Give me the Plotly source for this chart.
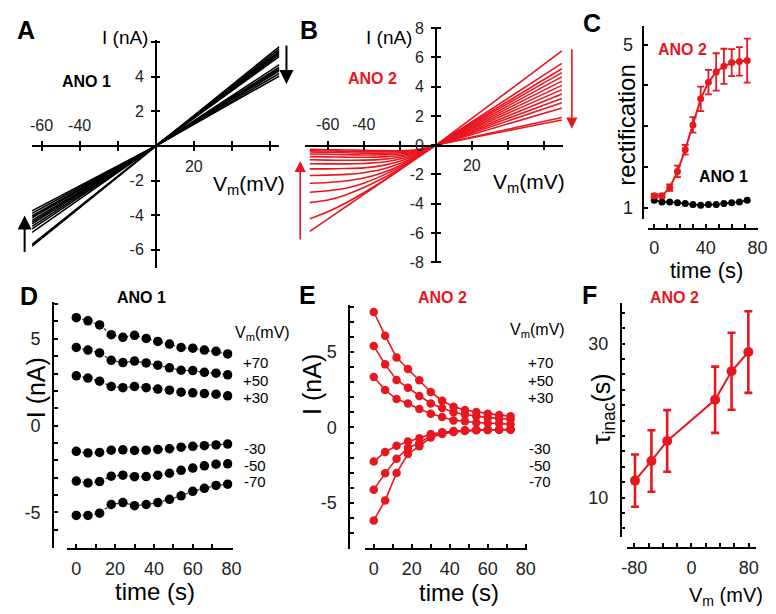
import plotly.graph_objects as go

W, H = 776, 614
def px(x): return x / W
def py(y): return 1 - y / H

RED = '#e8161f'
FONT = 'Liberation Sans, Arial, sans-serif'

# ---------------- Panel A: ANO1 I-V (straight lines through origin)
a_v = [-65, 0, 65]
a_left = [-5.8, -5.7, -5.0, -4.8, -4.65, -4.5, -4.4, -4.3, -4.15, -4.05, -3.9, -3.75]
a_right = [5.75, 5.62, 5.5, 5.4, 5.3, 5.18, 4.7, 4.55, 4.45, 4.35, 4.2, 4.05]

# ---------------- Panel B: ANO2 I-V
b_v = [-70, -60, -50, -40, -30, -20, -10, 0, 70]
b_neg = [
    [-5.9, -5.06, -4.21, -3.37, -2.53, -1.69, -0.84, 0],
    [-5.04, -4.55, -3.95, -3.25, -2.5, -1.68, -0.84, 0],
    [-3.93, -3.75, -3.4, -2.9, -2.3, -1.6, -0.82, 0],
    [-3.22, -3.12, -2.95, -2.6, -2.1, -1.5, -0.8, 0],
    [-2.6, -2.55, -2.45, -2.25, -1.9, -1.4, -0.76, 0],
    [-2.07, -2.05, -2.0, -1.88, -1.65, -1.25, -0.72, 0],
    [-1.62, -1.62, -1.6, -1.55, -1.4, -1.1, -0.66, 0],
    [-1.27, -1.28, -1.28, -1.25, -1.17, -0.95, -0.6, 0],
    [-1.0, -1.02, -1.03, -1.02, -0.97, -0.82, -0.54, 0],
    [-0.78, -0.8, -0.82, -0.83, -0.8, -0.7, -0.48, 0],
    [-0.6, -0.62, -0.65, -0.67, -0.66, -0.6, -0.43, 0],
    [-0.47, -0.49, -0.52, -0.54, -0.55, -0.52, -0.38, 0],
    [-0.38, -0.4, -0.42, -0.44, -0.46, -0.45, -0.34, 0],
    [-0.29, -0.31, -0.33, -0.35, -0.37, -0.38, -0.3, 0],
]
b_pos = [6.45, 5.6, 5.23, 4.96, 4.67, 4.38, 4.09, 3.8, 3.5, 3.2, 2.9, 2.55, 1.89, 1.72]

# ---------------- Panel C: rectification vs time
c_t = [0, 6, 12, 18, 24, 30, 36, 42, 48, 54, 60, 66, 72]
c_ano2 = [1.29, 1.29, 1.49, 1.89, 2.42, 3.03, 3.67, 4.08, 4.33, 4.47, 4.56, 4.59, 4.61]
c_ano2_err = [0.05, 0.05, 0.08, 0.14, 0.12, 0.19, 0.3, 0.3, 0.46, 0.43, 0.33, 0.35, 0.54]
c_ano1 = [1.18, 1.14, 1.14, 1.12, 1.10, 1.08, 1.06, 1.08, 1.08, 1.10, 1.12, 1.14, 1.18]

# ---------------- Panel D: ANO1 current vs time
d_t = [0, 6, 12, 18, 24, 30, 36, 42, 48, 54, 60, 66, 72, 78]
d_series = {
    '+70': [6.22, 6.04, 5.80, 5.24, 5.09, 5.20, 5.02, 4.85, 4.70, 4.50, 4.46, 4.35, 4.28, 4.13],
    '+50': [4.50, 4.35, 4.19, 3.76, 3.63, 3.72, 3.61, 3.48, 3.33, 3.19, 3.17, 3.07, 3.02, 2.93],
    '+30': [2.87, 2.74, 2.56, 2.26, 2.19, 2.26, 2.19, 2.11, 2.04, 1.93, 1.89, 1.85, 1.81, 1.72],
    '-30': [-1.48, -1.57, -1.54, -1.41, -1.39, -1.43, -1.41, -1.37, -1.33, -1.24, -1.19, -1.15, -1.11, -1.06],
    '-50': [-3.19, -3.30, -3.22, -2.91, -2.85, -2.94, -2.93, -2.85, -2.74, -2.57, -2.44, -2.31, -2.22, -2.20],
    '-70': [-5.17, -5.17, -5.04, -4.54, -4.43, -4.61, -4.54, -4.43, -4.24, -4.04, -3.78, -3.61, -3.44, -3.37],
}

# ---------------- Panel E: ANO2 current vs time
e_t = [0, 6, 12, 18, 24, 30, 36, 42, 48, 54, 60, 66, 72]
e_series = {
    '+70': [7.65, 6.08, 4.63, 3.88, 3.13, 2.35, 1.77, 1.38, 1.16, 1.03, 0.91, 0.82, 0.75],
    '+50': [5.39, 4.18, 3.15, 2.63, 2.09, 1.59, 1.29, 1.01, 0.86, 0.75, 0.65, 0.60, 0.54],
    '+30': [3.34, 2.48, 1.88, 1.59, 1.23, 0.91, 0.69, 0.47, 0.41, 0.32, 0.30, 0.26, 0.22],
    '-30': [-2.26, -1.62, -1.21, -0.93, -0.71, -0.43, -0.32, -0.24, -0.19, -0.17, -0.15, -0.13, -0.13],
    '-50': [-4.12, -3.04, -2.07, -1.36, -1.03, -0.56, -0.39, -0.28, -0.22, -0.17, -0.15, -0.15, -0.13],
    '-70': [-6.16, -4.83, -3.02, -1.75, -1.25, -0.67, -0.43, -0.30, -0.24, -0.19, -0.17, -0.15, -0.15],
}
vm_labels = ['+70', '+50', '+30', '-30', '-50', '-70']

# ---------------- Panel F: tau_inac vs Vm
f_v = [-79, -56, -34, 33, 56, 79.5]
f_tau = [12.2, 14.75, 17.35, 22.7, 26.4, 28.9]
f_err = [3.4, 4.0, 4.0, 4.3, 5.0, 5.3]

fig = go.Figure()

# A traces
for L, R in zip(a_left, a_right):
    fig.add_trace(go.Scatter(x=a_v, y=[L, 0, R], mode='lines',
                             line=dict(color='black', width=1.6),
                             xaxis='x', yaxis='y', showlegend=False, hoverinfo='skip'))
fig.add_trace(go.Scatter(x=[None], y=[None], xaxis='x2', yaxis='y2', showlegend=False))

# B traces
for neg, pos in zip(b_neg, b_pos):
    fig.add_trace(go.Scatter(x=b_v, y=neg + [pos], mode='lines',
                             line=dict(color=RED, width=1.6, shape='spline', smoothing=0.6),
                             xaxis='x3', yaxis='y3', showlegend=False, hoverinfo='skip'))
fig.add_trace(go.Scatter(x=[None], y=[None], xaxis='x4', yaxis='y4', showlegend=False))

# C traces
fig.add_trace(go.Scatter(x=c_t, y=c_ano1, mode='lines+markers',
                         line=dict(color='black', width=1.5),
                         marker=dict(color='black', size=7),
                         xaxis='x5', yaxis='y5', showlegend=False))
fig.add_trace(go.Scatter(x=c_t, y=c_ano2, mode='lines+markers',
                         line=dict(color=RED, width=2),
                         marker=dict(color=RED, size=7),
                         error_y=dict(type='data', array=c_ano2_err, color=RED, thickness=1.8, width=3.5),
                         xaxis='x5', yaxis='y5', showlegend=False))

# D traces
for k in vm_labels:
    fig.add_trace(go.Scatter(x=d_t, y=d_series[k], mode='lines+markers',
                             line=dict(color='#333333', width=1.2, dash='dot'),
                             marker=dict(color='black', size=9.5),
                             xaxis='x6', yaxis='y6', showlegend=False))

# E traces
for k in vm_labels:
    fig.add_trace(go.Scatter(x=e_t, y=e_series[k], mode='lines+markers',
                             line=dict(color=RED, width=1.6),
                             marker=dict(color=RED, size=8.5),
                             xaxis='x7', yaxis='y7', showlegend=False))

# F trace
fig.add_trace(go.Scatter(x=f_v, y=f_tau, mode='lines+markers',
                         line=dict(color=RED, width=2),
                         marker=dict(color=RED, size=10),
                         error_y=dict(type='data', array=f_err, color=RED, thickness=2.6, width=4),
                         xaxis='x8', yaxis='y8', showlegend=False))

def ax(**kw):
    base = dict(showgrid=False, zeroline=False, showline=True, linecolor='black',
                linewidth=1.5, tickcolor='black', tickwidth=1.5, ticklen=4,
                tickfont=dict(family=FONT, size=18, color='#222'), fixedrange=True)
    base.update(kw)
    return base

fs_ab = 16
ab_font = dict(family=FONT, size=fs_ab, color='#222')
# Panel A axes
ax_x_pos = py(141.7)
a_xt = [-60, -40, -20, 0, 20, 40, 60]
a_yt = [-6, -4, -2, 0, 2, 4, 6]
layout_axes = dict(
    xaxis=ax(domain=[px(26.6), px(278.8)], range=[-65, 65], anchor='free', position=ax_x_pos,
             tickvals=a_xt, ticktext=['', '', '', '', '20', '', ''], ticks='outside', side='bottom',
             tickfont=ab_font, ticklabelstandoff=2),
    xaxis2=ax(overlaying='x', range=[-65, 65], anchor='free', position=ax_x_pos, side='top',
              tickvals=a_xt, ticktext=['-60', '-40', '', '', '', '', ''], ticks='outside',
              tickfont=ab_font, ticklabelstandoff=4),
    yaxis=ax(domain=[py(267), py(33)], range=[-7.06, 6.12], anchor='free', position=px(152.7),
             tickvals=a_yt, ticktext=['-6', '-4', '-2', '', '2', '4', ''], ticks='outside', side='left',
             tickfont=ab_font, ticklabelstandoff=4),
    yaxis2=ax(overlaying='y', range=[-7.06, 6.12], anchor='free', position=px(152.7), side='right',
              tickvals=a_yt, showticklabels=False, ticks='outside'),
)
# Panel B axes
b_xt = [-60, -40, -20, 0, 20, 40, 60]
b_yt = [-8, -6, -4, -2, 0, 2, 4, 6, 8]
bx_pos = py(141.2)
layout_axes.update(
    xaxis3=ax(domain=[px(305), px(568.3)], range=[-72.6, 70.8], anchor='free', position=bx_pos,
              tickvals=b_xt, ticktext=['', '', '', '', '20', '', ''], ticks='outside', side='bottom',
              tickfont=ab_font, ticklabelstandoff=2),
    xaxis4=ax(overlaying='x3', range=[-72.6, 70.8], anchor='free', position=bx_pos, side='top',
              tickvals=b_xt, ticktext=['-60', '-40', '', '', '', '', ''], ticks='outside',
              tickfont=ab_font, ticklabelstandoff=4),
    yaxis3=ax(domain=[py(261.7), py(20)], range=[-8.05, 8.05], anchor='free', position=px(438.3),
              tickvals=b_yt, ticktext=[str(v) for v in b_yt], ticks='outside', side='left',
              tickfont=ab_font, ticklabelstandoff=4),
    yaxis4=ax(overlaying='y3', range=[-8.05, 8.05], anchor='free', position=px(438.3), side='right',
              tickvals=b_yt, showticklabels=False, ticks='outside'),
)
# Panel C axes
layout_axes.update(
    xaxis5=ax(domain=[px(655), px(766.7)], range=[-4.56, 80.3], anchor='free', position=py(226.7),
              tickvals=list(range(0, 81, 10)),
              ticktext=['0', '', '', '', '40', '', '', '', '80'], ticks='inside', ticklabelstandoff=3),
    yaxis5=ax(domain=[py(217), py(18)], range=[0.713, 5.47], anchor='free', position=px(650),
              tickvals=[1, 2, 3, 4, 5], ticktext=['1', '', '', '', '5'], ticks='inside', ticklabelstandoff=6),
)
# Panel D axes
layout_axes.update(
    xaxis6=ax(domain=[px(62.3), px(231)], range=[-4.75, 80.5], anchor='free', position=py(555),
              tickvals=list(range(0, 81, 10)),
              ticktext=['0', '', '20', '', '40', '', '60', '', '80'], ticks='inside', ticklabelstandoff=4),
    yaxis6=ax(domain=[py(554), py(301.7)], range=[-7.02, 7.13], anchor='free', position=px(47.7),
              tickvals=list(range(-7, 8)),
              ticktext=['' if v not in (-5, 0, 5) else str(v) for v in range(-7, 8)],
              ticks='inside', ticklabelstandoff=8),
)
# Panel E axes
layout_axes.update(
    xaxis7=ax(domain=[px(366), px(531.7)], range=[-4.65, 80.9], anchor='free', position=py(555),
              tickvals=list(range(0, 81, 10)),
              ticktext=['0', '', '20', '', '40', '', '60', '', '80'], ticks='inside', ticklabelstandoff=4),
    yaxis7=ax(domain=[py(555), py(305)], range=[-8.02, 8.11], anchor='free', position=px(350),
              tickvals=list(range(-8, 9)),
              ticktext=['' if v not in (-5, 0, 5) else str(v) for v in range(-8, 9)],
              ticks='inside', ticklabelstandoff=8),
)
# Panel F axes
layout_axes.update(
    xaxis8=ax(domain=[px(633.3), px(765)], range=[-90.1, 90.5], anchor='free', position=py(554),
              tickvals=list(range(-80, 81, 20)),
              ticktext=['-80', '', '', '', '0', '', '', '', '80'], ticks='inside', ticklabelstandoff=4),
    yaxis8=ax(domain=[py(543.3), py(302.7)], range=[4.86, 35.29], anchor='free', position=px(626.7),
              tickvals=list(range(6, 35, 2)),
              ticktext=['' if v not in (10, 30) else str(v) for v in range(6, 35, 2)],
              ticks='inside', ticklabelstandoff=8),
)

annotations = []
def txt(x, y, text, size, color='black', bold=False, angle=0, xanchor='center'):
    if bold:
        text = '<b>' + text + '</b>'
    annotations.append(dict(x=px(x), y=py(y), xref='paper', yref='paper', text=text,
                            showarrow=False, xanchor=xanchor, yanchor='middle', textangle=angle,
                            font=dict(family=FONT, size=size, color=color)))

def arrow(x, y_tip, dy, color, width):
    annotations.append(dict(x=px(x), y=py(y_tip), xref='paper', yref='paper', text='',
                            showarrow=True, ax=0, ay=dy, arrowhead=2, arrowsize=1.4,
                            arrowwidth=width, arrowcolor=color))

# panel letters
for lbl, x, y in [('A', 20, 23), ('B', 309, 23), ('C', 598, 15), ('D', 23, 296), ('E', 307, 295), ('F', 595, 295)]:
    txt(x, y, lbl, 25, bold=True)

# Panel A text
txt(121, 30, 'I (nA)', 19)
txt(81.7, 75, 'ANO 1', 16, bold=True)
txt(248, 182, 'V<sub>m</sub>(mV)', 21)
arrow(286, 78, -40, 'black', 2)
arrow(19, 213, 38, 'black', 2)

# Panel B text
txt(391, 30, 'I (nA)', 19)
txt(374, 72, 'ANO 2', 16, color=RED, bold=True)
txt(533, 180, 'V<sub>m</sub>(mV)', 21)
arrow(300, 157, 80, RED, 1.6)
arrow(577, 124, -81, RED, 1.6)

# Panel C text
txt(690, 43, 'ANO 2', 16, color=RED, bold=True)
txt(732, 173, 'ANO 1', 16, bold=True)
txt(633, 120, 'rectification', 24, angle=-90)
txt(714, 270, 'time (s)', 22)

# Panel D text
txt(138, 297, 'ANO 1', 16, bold=True)
txt(30, 390, 'I (nA)', 25, angle=-90)
txt(152, 599, 'time (s)', 24)
txt(262, 334, 'V<sub>m</sub>(mV)', 16)
for lab, y in zip(vm_labels, [364, 382, 399.5, 452.7, 470, 486]):
    txt(254, y, lab, 15)

# Panel E text
txt(445, 297, 'ANO 2', 16, color=RED, bold=True)
txt(312, 386, 'I (nA)', 25, angle=-90)
txt(462, 600, 'time (s)', 24)
txt(542, 331, 'V<sub>m</sub>(mV)', 16)
for lab, y in zip(vm_labels, [363.5, 382, 399.5, 452.7, 470, 486]):
    txt(545, y, lab, 15)

# Panel F text
txt(682, 297, 'ANO 2', 16, color=RED, bold=True)
txt(609, 412, '\u03c4<sub>inac</sub>(s)', 25, angle=-90)
txt(734, 604, 'V<sub>m</sub> (mV)', 20)

fig.update_layout(width=W, height=H, margin=dict(l=0, r=0, t=0, b=0),
                  paper_bgcolor='white', plot_bgcolor='rgba(0,0,0,0)',
                  font=dict(family=FONT), annotations=annotations, **layout_axes)

fig.write_html('out.html', config={'displayModeBar': False},
               post_script="document.body.style.margin='0';")
